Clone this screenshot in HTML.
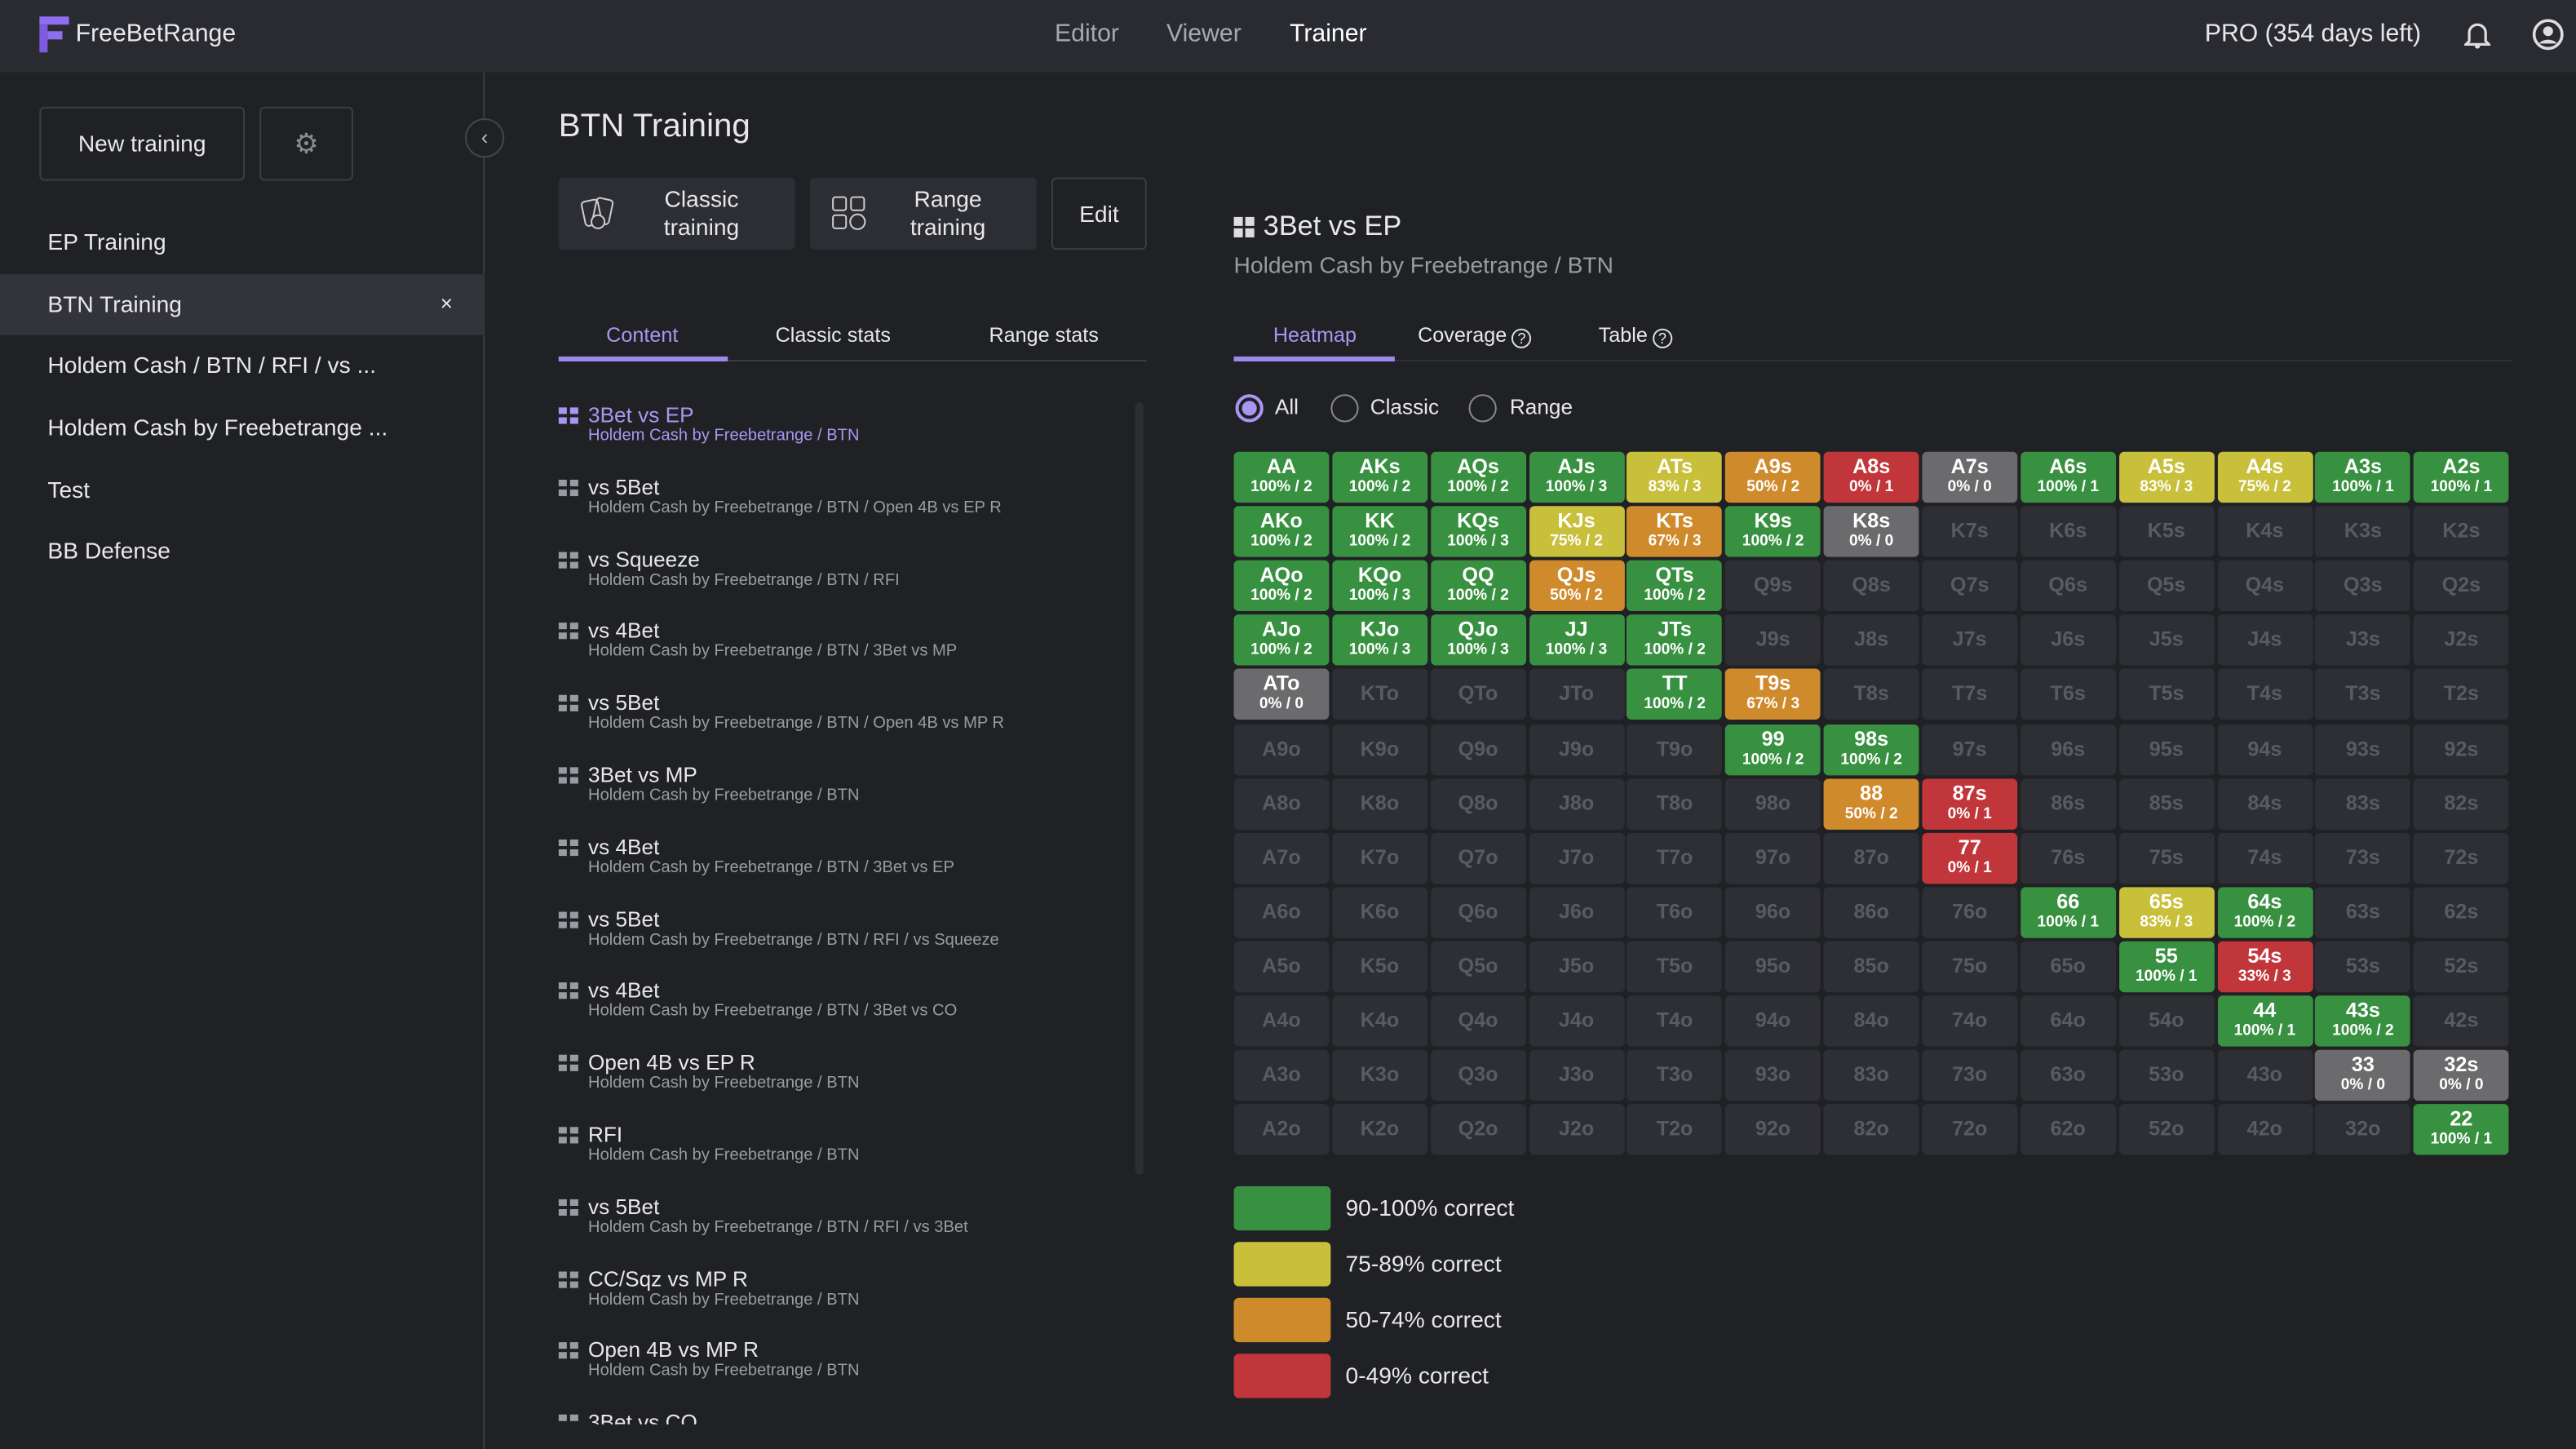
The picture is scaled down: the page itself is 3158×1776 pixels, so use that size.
<!DOCTYPE html>
<html><head><meta charset="utf-8"><style>
*{box-sizing:border-box;margin:0;padding:0}
html,body{width:3158px;height:1776px;overflow:hidden;background:#202125}
#w{position:absolute;left:0;top:0;width:1568px;height:882px;transform:scale(2.01403,2.0136);transform-origin:0 0;font-family:"Liberation Sans",sans-serif;color:#e8e8ea;background:#202125}
.a{position:absolute}
#hdr{left:0;top:0;width:1568px;height:44px;background:#2a2b31}
.nav{top:12px;font-size:15px;color:#a8a9ae}
#side{left:0;top:44px;width:295px;height:838px;border-right:1px solid #3a3b40}
.si{left:29px;font-size:14px;color:#e8e8ea}
.btn{border:1px solid #3c3d43;border-radius:3px}
.li .t{font-size:13px;color:#e8e8ea;position:absolute;left:18px;top:0}
.li .s{font-size:10px;color:#9a9ba0;position:absolute;left:18px;top:15px;white-space:nowrap}
.li .ic{position:absolute;left:0;top:3px;width:12px;height:10px}
.ic i{position:absolute;width:5px;height:4px;background:#9a9ba0}
.c{position:absolute;width:58px;height:31px;border-radius:3px;text-align:center;font-weight:bold;color:#fff}
.c b{display:block;font-size:12.5px;line-height:13px;margin-top:3px}
.c span{display:block;font-size:9.5px;line-height:11px}
.c.e{background:#2e2f35;color:#5a5b61;font-size:12.5px;line-height:31px}
.g{background:#389140}.y{background:#c8c03a}.o{background:#cf8a2c}.r{background:#c1363a}.x{background:#6b6b6d}
.lg{left:751px;width:59px;height:27px;border-radius:3px}
.lt{left:819px;font-size:14px;color:#e8e8ea}
.q{display:inline-block;width:12px;height:12px;border:1.3px solid #ddd;border-radius:6px;font-size:9px;line-height:10px;text-align:center;vertical-align:-1px;margin-left:3px}
</style></head><body><div id="w">
<div id="hdr" class="a"></div>
<svg class="a" style="left:23px;top:10px" width="20" height="22"><rect x="1" y="0" width="18" height="5" fill="#8e6df0"/><rect x="1" y="5" width="5" height="17" fill="#7c5be0"/><rect x="6" y="9" width="9" height="5" fill="#8e6df0"/></svg>
<div class="a" style="left:46px;top:12px;font-size:15px">FreeBetRange</div>
<div class="a nav" style="left:642px">Editor</div>
<div class="a nav" style="left:710px">Viewer</div>
<div class="a nav" style="left:785px;color:#fff">Trainer</div>
<div class="a" style="left:1342px;top:12px;font-size:15px">PRO (354 days left)</div>
<svg class="a" style="left:1500px;top:12px" width="16" height="18"><path d="M3 13V8a5 5 0 0110 0v5l2 2H1z" fill="none" stroke="#ddd" stroke-width="1.6"/><circle cx="8" cy="16" r="1.6" fill="#ddd"/></svg>
<svg class="a" style="left:1541px;top:11px" width="20" height="20"><circle cx="10" cy="10" r="8.5" fill="none" stroke="#ddd" stroke-width="1.8"/><circle cx="10" cy="8" r="3" fill="#ddd"/><path d="M4.5 15.5a6.5 5 0 0111 0" fill="#ddd"/></svg>

<div id="side" class="a"></div>
<div class="a btn" style="left:24px;top:65px;width:125px;height:45px;text-align:center;line-height:43px;font-size:14px">New training</div>
<div class="a btn" style="left:158px;top:65px;width:57px;height:45px;text-align:center;line-height:43px;color:#8a8b90;font-size:17px">⚙</div>
<div class="a" style="left:283px;top:72px;width:24px;height:24px;border-radius:12px;border:1px solid #44454b;background:#202125;color:#bbb;text-align:center;line-height:21px;font-size:13px">‹</div>
<div class="a si" style="top:139px">EP Training</div>
<div class="a" style="left:0;top:167px;width:295px;height:37px;background:#33343b"></div>
<div class="a si" style="top:177px">BTN Training</div>
<div class="a" style="left:268px;top:177px;font-size:13px">×</div>
<div class="a si" style="top:214px">Holdem Cash / BTN / RFI / vs ...</div>
<div class="a si" style="top:252px">Holdem Cash by Freebetrange ...</div>
<div class="a si" style="top:290px">Test</div>
<div class="a si" style="top:327px">BB Defense</div>

<div class="a" style="left:340px;top:66px;font-size:20px">BTN Training</div>
<div class="a" style="left:340px;top:108px;width:144px;height:44px;background:#2d2e34;border-radius:3px"></div>
<div class="a" style="left:392px;top:113px;width:70px;text-align:center;font-size:14px;line-height:17px">Classic<br>training</div>
<svg class="a" style="left:353px;top:119px" width="24" height="24"><rect x="2" y="3" width="10" height="15" rx="2" transform="rotate(-12 7 10)" fill="none" stroke="#ccc"/><rect x="9" y="2" width="10" height="15" rx="2" transform="rotate(12 14 9)" fill="none" stroke="#ccc"/><circle cx="11" cy="16" r="4" fill="#2d2e34" stroke="#ccc"/></svg>
<div class="a" style="left:493px;top:108px;width:138px;height:44px;background:#2d2e34;border-radius:3px"></div>
<div class="a" style="left:544px;top:113px;width:66px;text-align:center;font-size:14px;line-height:17px">Range<br>training</div>
<svg class="a" style="left:506px;top:119px" width="24" height="22"><rect x="1" y="1" width="8" height="8" rx="1.5" fill="none" stroke="#ccc"/><rect x="12" y="1" width="8" height="8" rx="1.5" fill="none" stroke="#ccc"/><rect x="1" y="12" width="8" height="8" rx="1.5" fill="none" stroke="#ccc"/><circle cx="16" cy="16" r="4.5" fill="none" stroke="#ccc"/></svg>
<div class="a btn" style="left:640px;top:108px;width:58px;height:44px;text-align:center;line-height:42px;font-size:14px">Edit</div>

<div class="a" style="left:340px;top:219px;width:358px;height:1px;background:#3a3b40"></div>
<div class="a" style="left:340px;top:217px;width:103px;height:3px;background:#9d88ec"></div>
<div class="a" style="left:369px;top:197px;font-size:12.5px;color:#a996f0">Content</div>
<div class="a" style="left:472px;top:197px;font-size:12.5px">Classic stats</div>
<div class="a" style="left:602px;top:197px;font-size:12.5px">Range stats</div>
<div class="a" style="left:691px;top:245px;width:5px;height:470px;background:#2e2f35;border-radius:3px"></div>

<div id="list"></div>

<svg class="a" style="left:751px;top:132px" width="13" height="13"><rect x="0" y="0" width="5.5" height="5.5" fill="#ddd"/><rect x="7" y="0" width="5.5" height="5.5" fill="#ddd"/><rect x="0" y="7" width="5.5" height="5.5" fill="#ddd"/><rect x="7" y="7" width="5.5" height="5.5" fill="#ddd"/></svg>
<div class="a" style="left:769px;top:128px;font-size:17px">3Bet vs EP</div>
<div class="a" style="left:751px;top:153px;font-size:14px;color:#9a9ba0">Holdem Cash by Freebetrange / BTN</div>
<div class="a" style="left:751px;top:219px;width:778px;height:1px;background:#2e2f35"></div>
<div class="a" style="left:751px;top:217px;width:98px;height:3px;background:#9d88ec"></div>
<div class="a" style="left:775px;top:197px;font-size:12.5px;color:#a996f0">Heatmap</div>
<div class="a" style="left:863px;top:197px;font-size:12.5px;line-height:14px">Coverage<span class="q">?</span></div>
<div class="a" style="left:973px;top:197px;font-size:12.5px;line-height:14px">Table<span class="q">?</span></div>
<div class="a" style="left:752px;top:240px;width:17px;height:17px;border-radius:9px;border:2px solid #a996f0"></div>
<div class="a" style="left:756px;top:244px;width:9px;height:9px;border-radius:5px;background:#a996f0"></div>
<div class="a" style="left:776px;top:240px;font-size:13px">All</div>
<div class="a" style="left:810px;top:240px;width:17px;height:17px;border-radius:9px;border:1.5px solid #888"></div>
<div class="a" style="left:834px;top:240px;font-size:13px">Classic</div>
<div class="a" style="left:894px;top:240px;width:17px;height:17px;border-radius:9px;border:1.5px solid #888"></div>
<div class="a" style="left:919px;top:240px;font-size:13px">Range</div>

<div id="grid"></div>

<div class="a lg g" style="top:722px"></div><div class="a lt" style="top:727px">90-100% correct</div>
<div class="a lg y" style="top:756px"></div><div class="a lt" style="top:761px">75-89% correct</div>
<div class="a lg o" style="top:790px"></div><div class="a lt" style="top:795px">50-74% correct</div>
<div class="a lg r" style="top:824px"></div><div class="a lt" style="top:829px">0-49% correct</div>
</div>
<script>
var R="AKQJT98765432";
var col={AA:"g 100% / 2",AKs:"g 100% / 2",AQs:"g 100% / 2",AJs:"g 100% / 3",ATs:"y 83% / 3",A9s:"o 50% / 2",A8s:"r 0% / 1",A7s:"x 0% / 0",A6s:"g 100% / 1",A5s:"y 83% / 3",A4s:"y 75% / 2",A3s:"g 100% / 1",A2s:"g 100% / 1",
AKo:"g 100% / 2",KK:"g 100% / 2",KQs:"g 100% / 3",KJs:"y 75% / 2",KTs:"o 67% / 3",K9s:"g 100% / 2",K8s:"x 0% / 0",
AQo:"g 100% / 2",KQo:"g 100% / 3",QQ:"g 100% / 2",QJs:"o 50% / 2",QTs:"g 100% / 2",
AJo:"g 100% / 2",KJo:"g 100% / 3",QJo:"g 100% / 3",JJ:"g 100% / 3",JTs:"g 100% / 2",
ATo:"x 0% / 0",TT:"g 100% / 2",T9s:"o 67% / 3","99":"g 100% / 2","98s":"g 100% / 2","88":"o 50% / 2","87s":"r 0% / 1","77":"r 0% / 1",
"66":"g 100% / 1","65s":"y 83% / 3","64s":"g 100% / 2","55":"g 100% / 1","54s":"r 33% / 3","44":"g 100% / 1","43s":"g 100% / 2","33":"x 0% / 0","32s":"x 0% / 0","22":"g 100% / 1"};
var h="";
for(var i=0;i<13;i++)for(var j=0;j<13;j++){
 var n=i==j?R[i]+R[j]:(j>i?R[i]+R[j]+"s":R[j]+R[i]+"o");
 var x=751+j*59.85,y=275+i*33.1,v=col[n];
 if(v){var k=v.indexOf(" ");h+='<div class="c '+v.slice(0,k)+'" style="left:'+x+'px;top:'+y+'px"><b>'+n+'</b><span>'+v.slice(k+1)+'</span></div>';}
 else h+='<div class="c e" style="left:'+x+'px;top:'+y+'px">'+n+'</div>';
}
document.getElementById("grid").innerHTML=h;
var L=[["3Bet vs EP","Holdem Cash by Freebetrange / BTN"],["vs 5Bet","Holdem Cash by Freebetrange / BTN / Open 4B vs EP R"],["vs Squeeze","Holdem Cash by Freebetrange / BTN / RFI"],["vs 4Bet","Holdem Cash by Freebetrange / BTN / 3Bet vs MP"],["vs 5Bet","Holdem Cash by Freebetrange / BTN / Open 4B vs MP R"],["3Bet vs MP","Holdem Cash by Freebetrange / BTN"],["vs 4Bet","Holdem Cash by Freebetrange / BTN / 3Bet vs EP"],["vs 5Bet","Holdem Cash by Freebetrange / BTN / RFI / vs Squeeze"],["vs 4Bet","Holdem Cash by Freebetrange / BTN / 3Bet vs CO"],["Open 4B vs EP R","Holdem Cash by Freebetrange / BTN"],["RFI","Holdem Cash by Freebetrange / BTN"],["vs 5Bet","Holdem Cash by Freebetrange / BTN / RFI / vs 3Bet"],["CC/Sqz vs MP R","Holdem Cash by Freebetrange / BTN"],["Open 4B vs MP R","Holdem Cash by Freebetrange / BTN"],["3Bet vs CO",""]];
h="";
for(var i=0;i<L.length;i++){var y=245+i*43.8,c=i==0?"#a996f0":"#9a9ba0";
h+='<div class="a li" style="left:340px;top:'+y+'px;width:340px;height:'+(i==14?(867-y):40)+'px;overflow:hidden"><div class="ic"><i style="left:0;top:0;background:'+c+'"></i><i style="left:7px;top:0;background:'+c+'"></i><i style="left:0;top:6px;background:'+c+'"></i><i style="left:7px;top:6px;background:'+c+'"></i></div><div class="t" style="'+(i==0?"color:#a996f0":"")+'">'+L[i][0]+'</div><div class="s" style="'+(i==0?"color:#a996f0":"")+'">'+L[i][1]+'</div></div>';}
document.getElementById("list").innerHTML=h;
</script>
</body></html>
